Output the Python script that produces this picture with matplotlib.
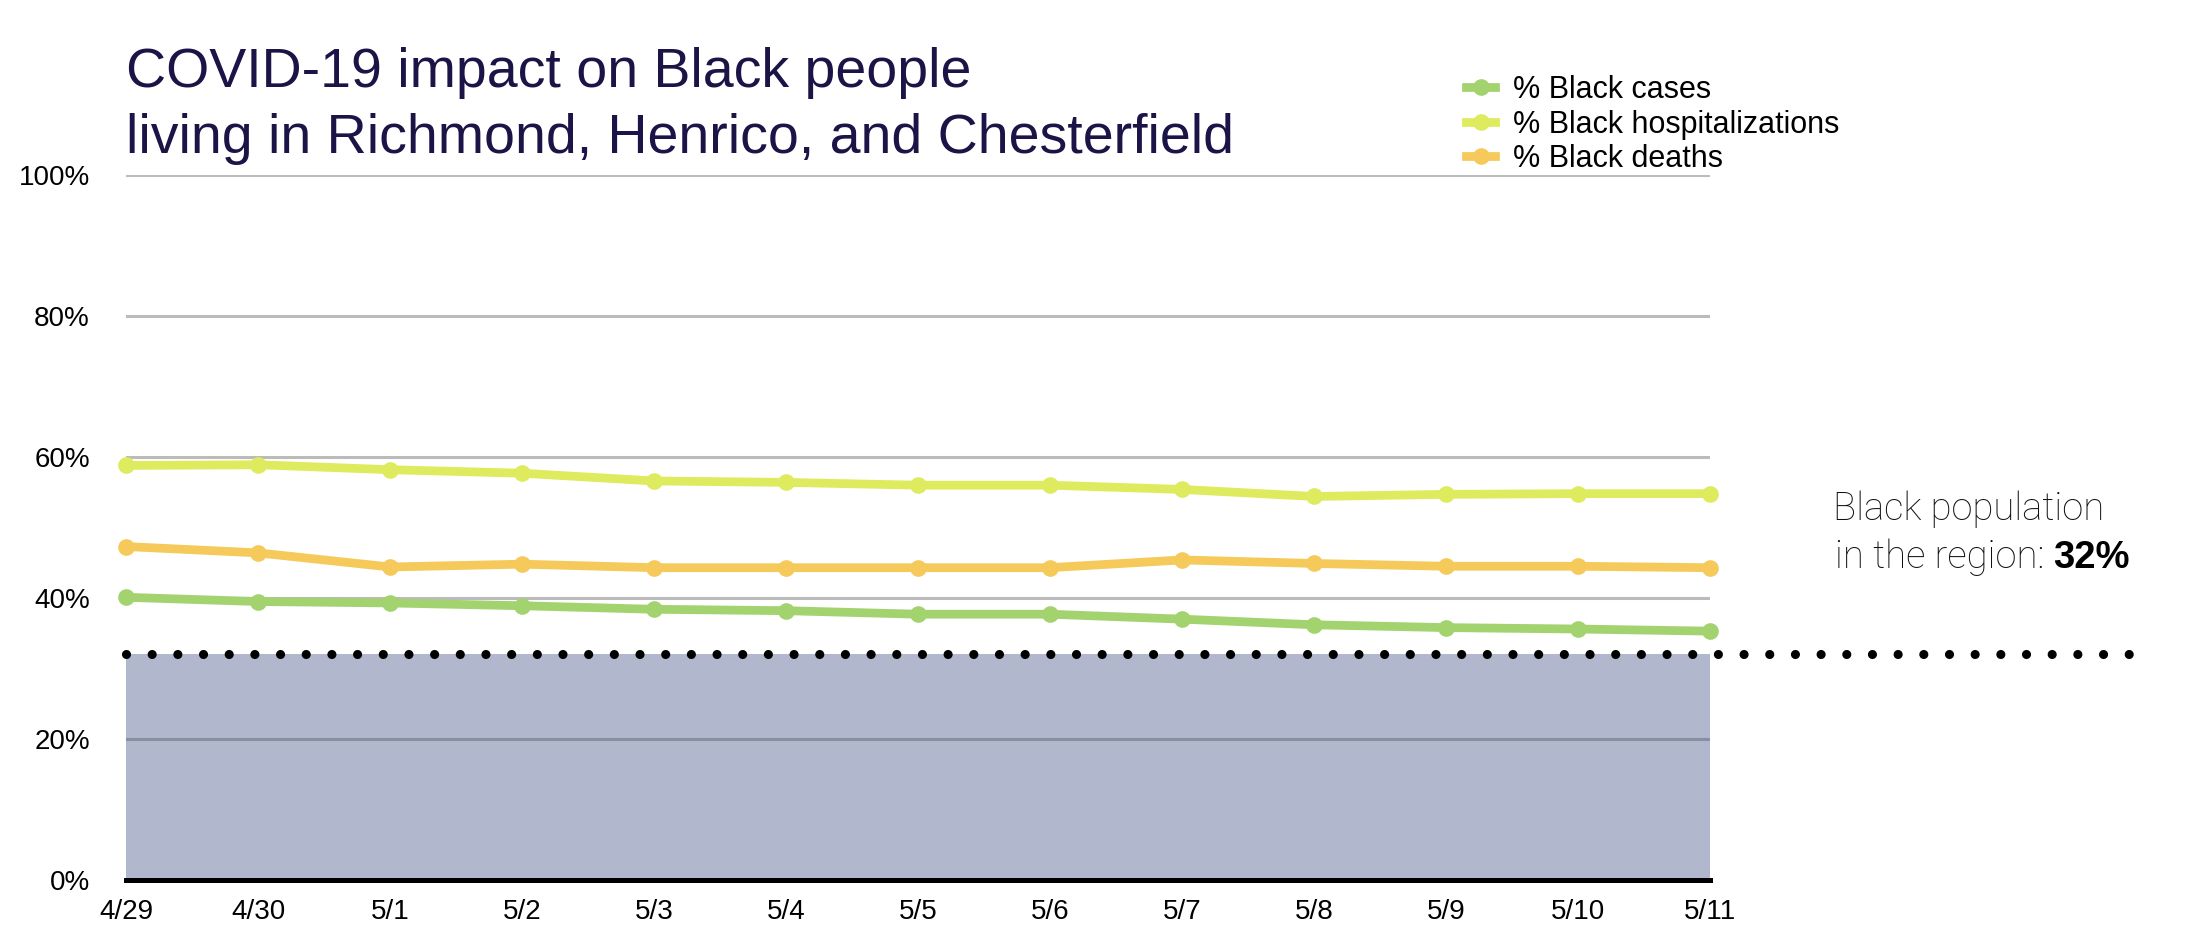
import matplotlib
matplotlib.use("Agg")
import matplotlib.pyplot as plt
from matplotlib.lines import Line2D

# ---- data ----
dates = ["4/29", "4/30", "5/1", "5/2", "5/3", "5/4", "5/5", "5/6", "5/7", "5/8", "5/9", "5/10", "5/11"]
pct_cases = [40.1, 39.5, 39.3, 38.9, 38.4, 38.2, 37.7, 37.7, 37.0, 36.2, 35.8, 35.6, 35.3]
pct_hosp = [58.8, 58.9, 58.2, 57.7, 56.6, 56.4, 56.0, 56.0, 55.4, 54.4, 54.7, 54.8, 54.8]
pct_deaths = [47.3, 46.4, 44.4, 44.8, 44.3, 44.3, 44.3, 44.3, 45.4, 44.9, 44.5, 44.5, 44.3]
black_pop = 32
yticks = [0, 20, 40, 60, 80, 100]
ytick_labels = ["0%", "20%", "40%", "60%", "80%", "100%"]
series_labels = ["% Black cases", "% Black hospitalizations", "% Black deaths"]
title_lines = ["COVID-19 impact on Black people",
               "living in Richmond, Henrico, and Chesterfield"]

# ---- style ----
FONT = ["Liberation Sans", "DejaVu Sans"]
plt.rcParams["font.family"] = FONT
C_CASES = "#a3d36f"
C_HOSP = "#dfeb5e"
C_DEATHS = "#f5ca5a"
TITLE_C = "#1b1446"

W, H = 2193, 950
fig = plt.figure(figsize=(W / 100, H / 100), dpi=100)
L, R, B, T = 126, 1710, 880, 175
ax = fig.add_axes([L / W, 1 - B / H, (R - L) / W, (B - T) / H])

x = list(range(len(dates)))
ax.set_xlim(0, len(dates) - 1)
ax.set_ylim(0, 100)

# grid
ax.set_axisbelow(True)
ax.yaxis.grid(True, color="#bbbbbb", linewidth=2.2)
ax.xaxis.grid(False)

# population band
ax.axhspan(0, black_pop, color="#435283", alpha=0.41, linewidth=0, zorder=1)
ax.axhline(black_pop, xmin=0, xmax=(2147 - L) / (R - L), color="black",
           linewidth=6.6, linestyle=(0, (0.001, 2.8)), dash_capstyle="round",
           clip_on=False, zorder=3)

lw, ms = 6.3, 12
for vals, col in [(pct_cases, C_CASES), (pct_hosp, C_HOSP), (pct_deaths, C_DEATHS)]:
    ax.plot(x, vals, color=col, linewidth=lw, marker="o", markersize=ms,
            markeredgewidth=0, clip_on=False, zorder=4, solid_joinstyle="round")

# axes
for s in ["top", "right", "left"]:
    ax.spines[s].set_visible(False)
ax.spines["bottom"].set_color("black")
ax.spines["bottom"].set_linewidth(3.6)
ax.spines["bottom"].set_zorder(5)
ax.set_yticks(yticks)
ax.set_yticklabels(ytick_labels)
ax.set_xticks(x)
ax.set_xticklabels(dates)
ax.tick_params(axis="both", length=0, labelsize=20, labelcolor="black")
ax.tick_params(axis="y", pad=26)
ax.tick_params(axis="x", pad=14)

# legend
handles = [Line2D([0], [0], color=c, linewidth=lw, marker="o", markersize=ms,
                  markeredgewidth=0) for c in (C_CASES, C_HOSP, C_DEATHS)]
fig.legend(handles, series_labels, loc="upper left",
           bbox_to_anchor=(1466 / W, 1 - 75 / H), frameon=False, fontsize=22,
           handlelength=0.95, handletextpad=0.6, labelspacing=0.15,
           borderpad=0, borderaxespad=0)

# title
fig.text(L / W, 1 - 87 / H, title_lines[0], fontsize=40, color=TITLE_C, va="baseline", ha="left")
fig.text(L / W, 1 - 153 / H, title_lines[1], fontsize=40, color=TITLE_C, va="baseline", ha="left")

# annotation
ann_font = ["Roboto", "Liberation Sans", "DejaVu Sans"]
fig.text(1833 / W, 1 - 520 / H, "Black population", fontsize=27.5, family=ann_font,
         fontweight="light", va="baseline", ha="left", color="#111111")
t2 = fig.text(1835 / W, 1 - 568 / H, "in the region: ", fontsize=27.5, family=ann_font,
              fontweight="light", va="baseline", ha="left", color="#111111")
fig.canvas.draw()
bb = t2.get_window_extent(renderer=fig.canvas.get_renderer())
fig.text(bb.x1 / W, 1 - 568 / H, f"{black_pop}%", fontsize=27.5, family=FONT,
         fontweight="bold", va="baseline", ha="left", color="black")

fig.savefig("out.png", dpi=100)
